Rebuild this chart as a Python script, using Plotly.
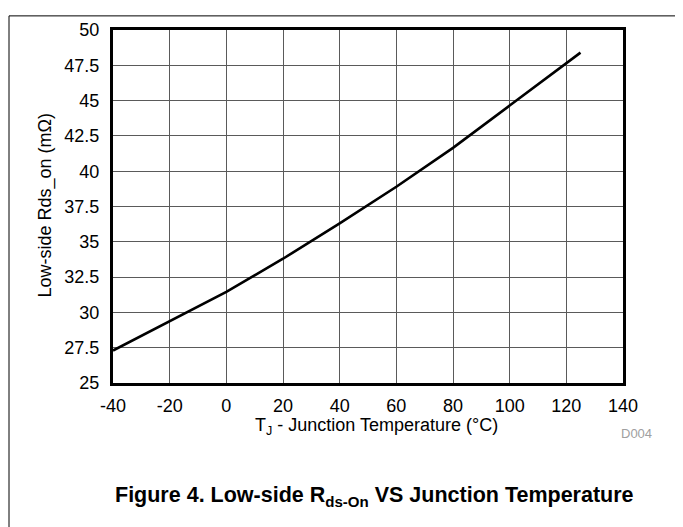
import plotly.graph_objects as go

# junction temperature (C) vs low-side Rds_on (mOhm)
temp_c = [-40, -20, 0, 20, 40, 60, 80, 100, 120, 125]
rds_on = [27.3, 29.4, 31.45, 33.8, 36.3, 38.9, 41.65, 44.65, 47.65, 48.4]

x_ticks = [-40, -20, 0, 20, 40, 60, 80, 100, 120, 140]
x_tick_text = ["-40", "-20", "0", "20", "40", "60", "80", "100", "120", "140"]
y_ticks = [25, 27.5, 30, 32.5, 35, 37.5, 40, 42.5, 45, 47.5, 50]
y_tick_text = ["25", "27.5", "30", "32.5", "35", "37.5", "40", "42.5", "45", "47.5", "50"]

FONT = "Arial, Liberation Sans, sans-serif"

fig = go.Figure()
fig.add_trace(go.Scatter(x=temp_c, y=rds_on, mode="lines",
                         line=dict(color="black", width=2.6), showlegend=False))

# page body adds 8px offset, margins are set so the plot lands where the reference has it
fig.update_layout(
    width=683, height=527,
    margin=dict(l=105, r=68, t=15, b=152),
    paper_bgcolor="white", plot_bgcolor="white",
    font=dict(family=FONT, size=18, color="black"),
    xaxis=dict(range=[-40, 140], tickvals=x_ticks, ticktext=x_tick_text, showgrid=True,
               gridcolor="#5a5a5a", gridwidth=1, zeroline=False,
               showline=True, linecolor="black", linewidth=3, mirror=True,
               ticks="outside", ticklen=4, tickcolor="rgba(0,0,0,0)",
               tickfont=dict(size=18)),
    yaxis=dict(range=[25, 50], tickvals=y_ticks, ticktext=y_tick_text, showgrid=True,
               gridcolor="#5a5a5a", gridwidth=1, zeroline=False,
               showline=True, linecolor="black", linewidth=3, mirror=True,
               ticks="outside", ticklen=7, tickcolor="rgba(0,0,0,0)",
               tickfont=dict(size=18)),
)

# frame around the whole figure
frame = dict(color="black", width=1)
fig.add_shape(type="line", xref="paper", yref="paper", x0=-0.2039, x1=-0.2039, y0=1.04, y1=-0.5, line=frame)
fig.add_shape(type="line", xref="paper", yref="paper", x0=1.1118, x1=1.1118, y0=1.04, y1=-0.5, line=frame)
fig.add_shape(type="line", xref="paper", yref="paper", x0=-0.2039, x1=1.1118, y0=1.04, y1=1.04, line=frame)

fig.add_annotation(text="T<sub>J</sub> - Junction Temperature (°C)", xref="paper", yref="paper",
                   x=0.5157, y=-0.122, xanchor="center", yanchor="middle",
                   showarrow=False, font=dict(size=18))
fig.add_annotation(text="Low-side Rds_on (mΩ)", xref="paper", yref="paper", textangle=-90,
                   x=-0.1333, y=0.503, xanchor="center", yanchor="middle",
                   showarrow=False, font=dict(size=18))
fig.add_annotation(text="D004", xref="paper", yref="paper", x=1.0255, y=-0.1417,
                   xanchor="center", yanchor="middle",
                   showarrow=False, font=dict(size=13, color="#a0a0a0"))
fig.add_annotation(text="<b>Figure 4. Low-side R<sub>ds-On</sub> VS Junction Temperature</b>",
                   xref="paper", yref="paper", x=0.5118, y=-0.3222,
                   xanchor="center", yanchor="middle", showarrow=False,
                   font=dict(size=21.5))

fig.write_html("out.html")
